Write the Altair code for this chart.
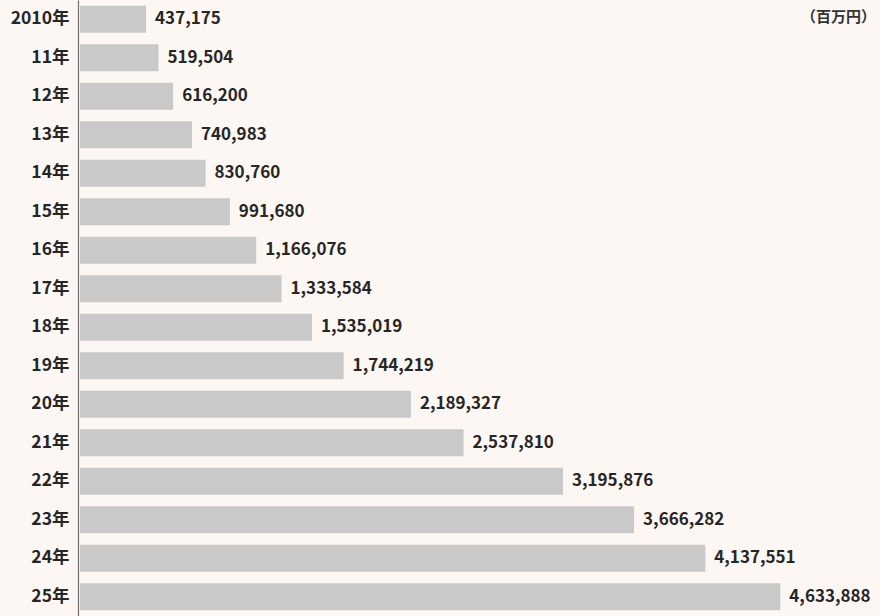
import altair as alt
import pandas as pd

years = ["2010年", "11年", "12年", "13年", "14年", "15年", "16年", "17年",
         "18年", "19年", "20年", "21年", "22年", "23年", "24年", "25年"]
values = [437175, 519504, 616200, 740983, 830760, 991680, 1166076, 1333584,
          1535019, 1744219, 2189327, 2537810, 3195876, 3666282, 4137551, 4633888]
unit_label = ["（百万円）"]

df = pd.DataFrame({"year": years, "value": values})
df["label"] = df["value"].map(lambda v: f"{v:,}")

FONT = "Noto Sans CJK JP"
BG = "#fdf7f3"

y_enc = alt.Y("year:N", sort=years, title=None,
              scale=alt.Scale(paddingInner=0.3, paddingOuter=0.15),
              axis=alt.Axis(domain=True, domainColor="#6e6e6e", domainWidth=1.2,
                            ticks=False, labelPadding=9, labelFontSize=17.5,
                            labelFont=FONT, labelFontWeight="bold",
                            labelColor="#262626"))
x_enc = alt.X("value:Q", title=None,
              scale=alt.Scale(domain=[0, 5300000], nice=False),
              axis=None)

bars = alt.Chart(df).mark_bar(color="#c9c9c9", xOffset=2).encode(x=x_enc, y=y_enc)
labels = alt.Chart(df).mark_text(align="left", baseline="middle", dx=11,
                                 font=FONT, fontWeight="bold", fontSize=17,
                                 color="#262626").encode(
    x=x_enc, y=alt.Y("year:N", sort=years), text="label:N")

unit = alt.Chart(pd.DataFrame({"t": unit_label})).mark_text(
    align="right", baseline="middle", font=FONT, fontWeight="bold",
    fontSize=15, color="#333333").encode(
    x=alt.value(798), y=alt.value(17), text="t:N")

chart = alt.layer(bars, labels, unit).properties(
    width=801, height=616,
    background=BG,
    padding={"left": 78, "top": 0, "right": 1, "bottom": 0},
    autosize=alt.AutoSizeParams(type="none"),
).configure_view(stroke=None)

chart.save("out.html", embed_options={"renderer": "svg", "actions": False})
